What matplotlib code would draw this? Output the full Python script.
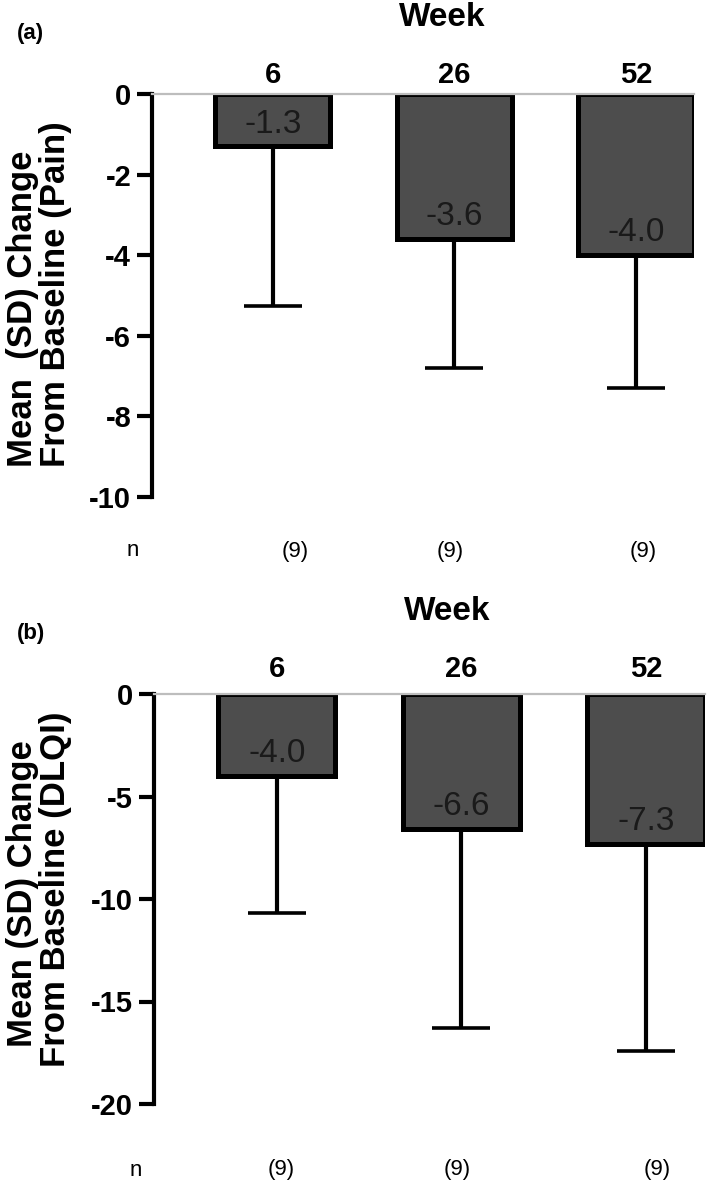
import matplotlib
matplotlib.use('Agg')
import matplotlib.pyplot as plt
import numpy as np

plt.rcParams['font.family'] = ['Liberation Sans', 'DejaVu Sans']
plt.rcParams['axes.unicode_minus'] = False

# ---------------- data ----------------
weeks = ['6', '26', '52']
pain_mean = [-1.3, -3.6, -4.0]
pain_sd = [3.95, 3.2, 3.3]
dlqi_mean = [-4.0, -6.6, -7.3]
dlqi_sd = [6.7, 9.7, 10.1]
n_counts = [9, 9, 9]
pain_ticks = [0, -2, -4, -6, -8, -10]
dlqi_ticks = [0, -5, -10, -15, -20]

W, H = 709, 1185
fig = plt.figure(figsize=(W / 100, H / 100), dpi=100)


def fx(x):
    return x / W


def fy(y):
    return 1 - y / H


def px_axes(left, top, right, bottom):
    return fig.add_axes([fx(left), fy(bottom), (right - left) / W, (bottom - top) / H])


panels = [
    dict(tag='(a)', means=pain_mean, sds=pain_sd, ticks=pain_ticks,
         box=(152, 94, 694, 497), tag_xy=(30, 33), week_xy=(442, 18),
         lab_off=8, ylab=['Mean  (SD) Change', 'From Baseline (Pain)'],
         ylab_x=(32, 65), ylab_y=(467, 467),
         n_y=551, n_x=133, nx=[295, 450, 643]),
    dict(tag='(b)', means=dlqi_mean, sds=dlqi_sd, ticks=dlqi_ticks,
         box=(154, 694, 705, 1104), tag_xy=(31, 633), week_xy=(447, 611),
         lab_off=12, ylab=['Mean (SD) Change', 'From Baseline (DLQI)'],
         ylab_x=(32, 65), ylab_y=(1047, 1067),
         n_y=1170, n_x=136, nx=[281, 457, 657]),
]

x = np.arange(len(weeks))
for p in panels:
    ax = px_axes(*p['box'])
    ax.bar(x, p['means'], width=0.635, color='#4d4d4d', edgecolor='black',
           linewidth=3.6, zorder=2)
    ax.errorbar(x, p['means'], yerr=[p['sds'], [0] * len(x)], fmt='none',
                ecolor='black', elinewidth=3, capsize=21, capthick=2.6, zorder=3)
    ax.set_xlim(-0.665, 2.32)
    ax.set_ylim(p['ticks'][-1], 0)
    ax.set_yticks(p['ticks'])
    ax.set_yticklabels([str(t) for t in p['ticks']], fontsize=21, fontweight='bold')
    ax.set_xticks([])
    for s in ['right', 'bottom']:
        ax.spines[s].set_visible(False)
    ax.spines['top'].set_color('#bdbdbd')
    ax.spines['top'].set_linewidth(1.6)
    ax.spines['top'].set_zorder(5)
    ax.spines['left'].set_linewidth(3)
    ax.tick_params(axis='y', length=11, width=3, pad=4)
    for i, (m, lab) in enumerate(zip(p['means'], weeks)):
        ax.annotate(f'{m:.1f}', xy=(i, m), xytext=(0, 10), textcoords='offset points',
                    ha='center', va='baseline', fontsize=24, color='#1a1a1a', zorder=6)
        ax.annotate(lab, xy=(i, 0), xytext=(0, p['lab_off']), textcoords='offset points',
                    ha='center', va='baseline', fontsize=21, fontweight='bold',
                    annotation_clip=False)
    fig.text(fx(p['tag_xy'][0]), fy(p['tag_xy'][1]), p['tag'], fontsize=16,
             fontweight='bold', ha='center', va='center')
    fig.text(fx(p['week_xy'][0]), fy(p['week_xy'][1]), 'Week', fontsize=24,
             fontweight='bold', ha='center', va='center')
    for line, lx, ly in zip(p['ylab'], p['ylab_x'], p['ylab_y']):
        fig.text(fx(lx), fy(ly), line, rotation=90, rotation_mode='anchor',
                 ha='left', va='baseline', fontsize=25, fontweight='bold')
    fig.text(fx(p['n_x']), fy(p['n_y']), 'n', fontsize=16, ha='center', va='center')
    for nx_, n in zip(p['nx'], n_counts):
        fig.text(fx(nx_), fy(p['n_y']), f'({n})', fontsize=16, ha='center', va='center')

fig.savefig('out.png', dpi=100, facecolor='white')
